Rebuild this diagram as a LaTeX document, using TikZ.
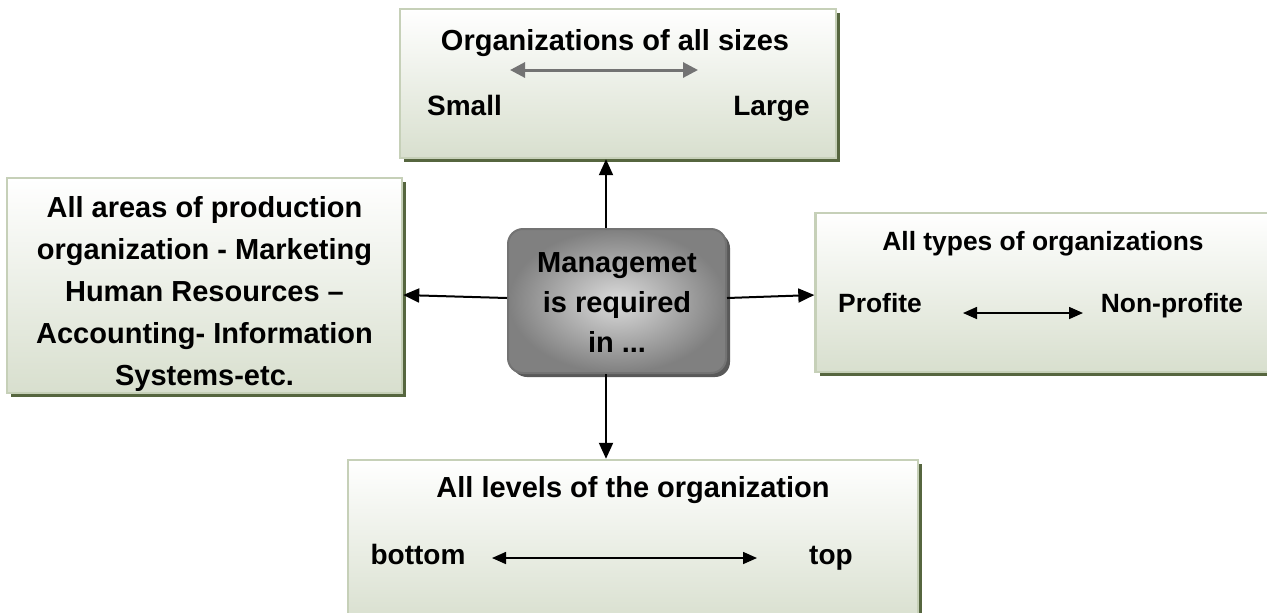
\documentclass[tikz,border=0pt]{standalone}
\usepackage{fontspec}
\setmainfont{Liberation Sans}
\usetikzlibrary{arrows.meta,shadows}
\definecolor{boxgreen}{HTML}{D8DFCE}
\definecolor{rimgreen}{HTML}{C6D0B8}
\definecolor{shadegreen}{HTML}{56663F}

\begin{document}
\begin{tikzpicture}[x=0.5pt,y=-0.5pt,
   panel/.style={draw=rimgreen,line width=1.2pt,top color=white,bottom color=boxgreen,
                 inner sep=0pt,
                 drop shadow={shadow xshift=2pt,shadow yshift=-2pt,fill=shadegreen,opacity=1}},
   hub/.style={draw=black!55,line width=1pt,rounded corners=7.5pt,inner sep=0pt,
               shading=radial,inner color=black!14,outer color=black!50,
               drop shadow={shadow xshift=2pt,shadow yshift=-2pt,fill=black!65,opacity=1}},
   txt/.style={font=\fontsize{14.5}{21}\selectfont\bfseries,inner sep=0pt,align=center},
   lbl/.style={font=\fontsize{14}{17}\selectfont\bfseries,inner sep=0pt,anchor=base},
   link/.style={line width=1pt,-{Triangle[length=8pt,width=7pt]}},
   twoway/.style={line width=0.8pt,{Triangle[length=7pt,width=6pt]}-{Triangle[length=7pt,width=6pt]}}]
  \useasboundingbox (0,0) rectangle (1267,612);

  % boxes
  \node[panel,minimum width=218pt,minimum height=74.5pt] (sizes) at (618,83.5) {};
  \node[panel,minimum width=197.5pt,minimum height=107.5pt] (areas) at (204.5,285.5) {};
  \node[panel,minimum width=233pt,minimum height=79.5pt] (types) at (1048.5,292.5) {};
  \node[panel,minimum width=285pt,minimum height=82.5pt] (levels) at (633,542.5) {};
  \node[hub,minimum width=109pt,minimum height=72pt] (mgmt) at (617,301) {};

  % centre
  \node[txt,anchor=north,font=\fontsize{14.5}{20}\selectfont\bfseries] (mgmt-t) at (617,252)
    {Managemet\\is required\\in ...};

  % sizes
  \node[txt,anchor=base] (sizes-t) at (615,50) {Organizations of all sizes};
  \node[lbl] (small) at (464.5,115) {Small};
  \node[lbl] (large) at (771.5,115) {Large};
  \coordinate (sz-l) at (510,70);
  \coordinate (sz-r) at (698,70);
  \draw[line width=1.5pt,draw=black!55,fill=black!55,
        {Triangle[length=7.5pt,width=7.5pt]}-{Triangle[length=7.5pt,width=7.5pt]}] (sz-l) -- (sz-r);

  % areas
  \node[txt,anchor=north] (areas-t) at (204.5,196)
    {All areas of production\\organization - Marketing\\Human Resources --\\Accounting- Information\\Systems-etc.};

  % types
  \node[txt,anchor=base,font=\fontsize{13.2}{16}\selectfont\bfseries] (types-t) at (1043,250) {All types of organizations};
  \node[lbl,font=\fontsize{13.2}{16}\selectfont\bfseries] (profit) at (880,312) {Profite};
  \node[lbl,font=\fontsize{13.2}{16}\selectfont\bfseries] (nonprofit) at (1172,312) {Non-profite};
  \coordinate (ty-l) at (963,313);
  \coordinate (ty-r) at (1083,313);
  \draw[twoway] (ty-l) -- (ty-r);

  % levels
  \node[txt,anchor=base] (levels-t) at (633,497) {All levels of the organization};
  \node[lbl] (bottom) at (418,564) {bottom};
  \node[lbl] (top) at (831,564) {top};
  \coordinate (lv-l) at (492,558);
  \coordinate (lv-r) at (757,558);
  \draw[twoway] (lv-l) -- (lv-r);

  % connectors
  \draw[link] ([xshift=-5.5pt]mgmt.north) -- ([xshift=-5.5pt]mgmt.north |- sizes.south);
  \draw[link] ([xshift=-5.5pt]mgmt.south) -- ([xshift=-5.5pt]mgmt.south |- levels.north);
  \draw[link] ([yshift=1.5pt]mgmt.west) -- ([yshift=-4.75pt]areas.east);
  \draw[link] ([yshift=1.5pt]mgmt.east) -- ([yshift=-1.25pt]types.west);
\end{tikzpicture}
\end{document}
